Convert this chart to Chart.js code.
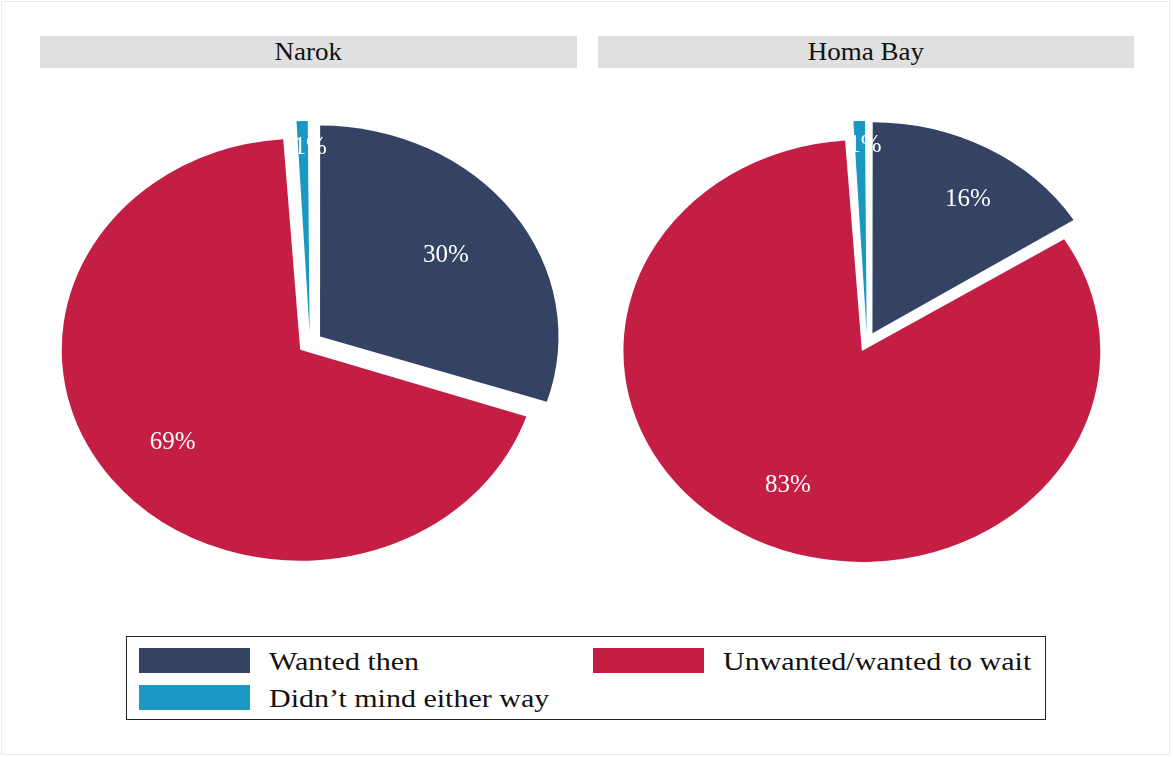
<!DOCTYPE html>
<html>
<head>
<meta charset="utf-8">
<script src="https://cdn.jsdelivr.net/npm/chart.js@4.4.1/dist/chart.umd.min.js"></script>
<style>
  html, body { margin: 0; padding: 0; background: #fff; }
  body { width: 1173px; height: 757px; position: relative; overflow: hidden;
         font-family: "Liberation Serif", "Times New Roman", serif; color: #111; }
  .frame { position: absolute; left: 1px; top: 1px; width: 1167px; height: 752px;
           border: 1px solid #e6eded; }
  .strip { position: absolute; top: 36px; height: 32px; background: #e0e0e0;
           text-align: center; line-height: 32px; font-size: 25px; }
  .strip span { display: inline-block; transform: scaleX(1.08); }
  canvas { position: absolute; }
  #legend { position: absolute; left: 126px; top: 636px; width: 918px; height: 82px;
            border: 1px solid #222; }
  .item { position: absolute; height: 36px; }
  .swatch { position: absolute; left: 0; top: 4px; width: 111px; height: 25px; }
  .label { position: absolute; left: 130px; top: 0; white-space: nowrap; font-size: 25px;
           line-height: 36px; transform: scaleX(1.2); transform-origin: left center; }
</style>
</head>
<body>
<div class="frame"></div>
<div class="strip" id="title0" style="left:40px;width:537px;"><span></span></div>
<div class="strip" id="title1" style="left:598px;width:536px;"><span></span></div>
<canvas id="pie0" width="550" height="500" style="left:35px;top:93px;"></canvas>
<canvas id="pie1" width="550" height="500" style="left:592px;top:92px;"></canvas>
<div id="legend"></div>

<script>
// Timing of pregnancy, share of responses by county
const regions = ['Narok', 'Homa Bay'];
const categories = ['Wanted then', 'Unwanted/wanted to wait', 'Didn\u2019t mind either way'];
const narokShares = [30, 69, 1];
const homaBayShares = [16, 83, 1];

const sliceColors = ['#344364', '#c51e45', '#1a98c4'];

// Pie geometry: vertical radius, horizontal stretch, slice pull-out (px)
const PIE_RADIUS = 211;
const PIE_STRETCH = 1.13;
const pieSetup = [
  { shares: narokShares, pull: 11, labelRadius: [0.705, 0.74, 0.925],
    labelShift: [[0, 0], [2, 4], [7, 0]] },
  { shares: homaBayShares, pull: 10, labelRadius: [0.80, 0.75, 0.93],
    labelShift: [[9, 5], [2, 2], [5, 0]] }
];

// Draws the pie as an ellipse and puts the percentage labels on top
const ellipsePie = {
  id: 'ellipsePie',
  beforeDatasetsDraw(chart, args, opts) {
    const meta = chart.getDatasetMeta(0);
    const off = (chart.data.datasets[0].offset || 0) / 4;
    // keep every slice at the same radius after pulling it out
    meta.data.forEach(arc => {
      const fix = 1 - Math.sin(Math.min(Math.PI, arc.circumference));
      arc.outerRadius = opts.radius - off * fix;
    });
    const a = chart.chartArea;
    const cx = (a.left + a.right) / 2, cy = (a.top + a.bottom) / 2;
    const ctx = chart.ctx;
    ctx.save();
    ctx.translate(cx, cy);
    ctx.scale(opts.stretch, 1);
    ctx.translate(-cx, -cy);
  },
  afterDatasetsDraw(chart, args, opts) {
    const ctx = chart.ctx;
    ctx.restore();
    const a = chart.chartArea;
    const cx = (a.left + a.right) / 2, cy = (a.top + a.bottom) / 2;
    const meta = chart.getDatasetMeta(0);
    const values = chart.data.datasets[0].data;
    ctx.save();
    ctx.fillStyle = '#ffffff';
    ctx.font = '25px "Liberation Serif", "Times New Roman", serif';
    ctx.textAlign = 'center';
    ctx.textBaseline = 'middle';
    meta.data.forEach((arc, i) => {
      const mid = (arc.startAngle + arc.endAngle) / 2;
      const r = opts.radius * opts.labelRadius[i];
      const x = cx + Math.cos(mid) * r * opts.stretch + opts.labelShift[i][0];
      const y = cy + Math.sin(mid) * r + opts.labelShift[i][1];
      ctx.fillText(values[i] + '%', x, y);
    });
    ctx.restore();
  }
};

const charts = pieSetup.map((setup, k) => {
  document.querySelector('#title' + k + ' span').textContent = regions[k];
  return new Chart(document.getElementById('pie' + k), {
    type: 'pie',
    data: {
      labels: categories,
      datasets: [{
        data: setup.shares,
        backgroundColor: sliceColors,
        borderWidth: 0,
        offset: setup.pull * 4,
        hoverOffset: setup.pull * 4,
        radius: PIE_RADIUS
      }]
    },
    options: {
      responsive: false,
      animation: false,
      events: [],
      layout: { padding: 0 },
      plugins: {
        legend: { display: false },
        tooltip: { enabled: false },
        ellipsePie: { radius: PIE_RADIUS, stretch: PIE_STRETCH,
                      labelRadius: setup.labelRadius, labelShift: setup.labelShift }
      }
    },
    plugins: [ellipsePie]
  });
});

// Shared legend, built from the first chart's legend items
(function buildLegend(chart) {
  const items = chart.options.plugins.legend.labels.generateLabels(chart);
  const box = document.getElementById('legend');
  items.forEach((item, i) => {
    const col = i % 2, row = Math.floor(i / 2);
    const el = document.createElement('div');
    el.className = 'item';
    el.style.left = (12 + col * 454) + 'px';
    el.style.top = (7 + row * 36.5) + 'px';
    const sw = document.createElement('div');
    sw.className = 'swatch';
    sw.style.background = item.fillStyle;
    const tx = document.createElement('div');
    tx.className = 'label';
    tx.textContent = item.text;
    el.appendChild(sw);
    el.appendChild(tx);
    box.appendChild(el);
  });
})(charts[0]);
</script>
</body>
</html>
